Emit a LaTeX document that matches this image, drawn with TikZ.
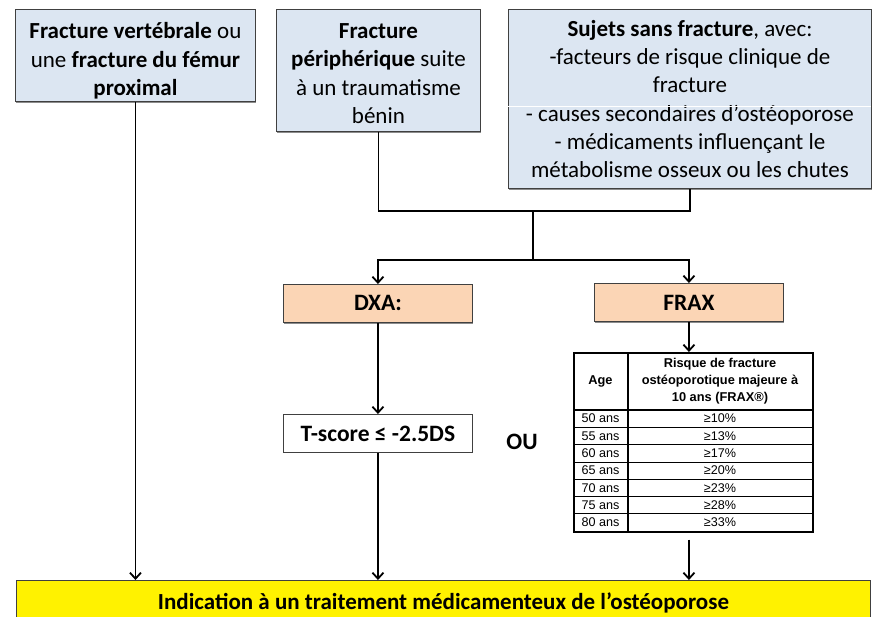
\documentclass[tikz,border=0pt]{standalone}
\usepackage{fontspec}
\setmainfont{Carlito}
\newfontfamily\arialf{Liberation Sans}
\usetikzlibrary{arrows.meta,shadows}
\definecolor{boxblue}{HTML}{DCE6F2}
\definecolor{boxorange}{HTML}{FBD5B5}
\definecolor{boxline}{HTML}{404040}
\begin{document}
\begin{tikzpicture}[x=1pt,y=-1pt,
  shad/.style={drop shadow={shadow xshift=1pt,shadow yshift=-1.2pt,fill=black!45,opacity=1}},
  mainfont/.style={font=\fontsize{23}{28.3}\selectfont},
  bluebox/.style={draw=boxline, line width=0.9pt, fill=boxblue, align=center, inner sep=0pt, anchor=north west, mainfont, shad},
  orangebox/.style={draw=boxline, line width=0.9pt, fill=boxorange, inner sep=0pt, anchor=north west, font=\fontsize{23.5}{28}\selectfont\bfseries, shad},
  whitebox/.style={draw=boxline, line width=0.9pt, fill=white, inner sep=0pt, anchor=north west, font=\fontsize{23.5}{28}\selectfont\bfseries},
  conn/.style={line width=1.8pt, draw=black},
  arr/.style={conn, -{Straight Barb[length=6pt,width=11pt]}},
  tabtxt/.style={font=\arialf\fontsize{12.6}{12.6}\selectfont, inner sep=0pt},
  tabhead/.style={font=\arialf\bfseries\fontsize{12.8}{17}\selectfont, align=center, inner sep=0pt}
]
\clip (0,0) rectangle (877,616);
\fill[white] (0,0) rectangle (877,616);

% top boxes
\node[bluebox, minimum width=240pt, minimum height=92pt] (b1) at (15,9)
  {\rule{0pt}{27pt}\textbf{Fracture vertébrale} ou\\une \textbf{fracture du fémur}\\\textbf{proximal}};
\node[bluebox, minimum width=204pt, minimum height=122pt] (b2) at (276,9)
  {\rule{0pt}{21pt}\textbf{Fracture}\\\textbf{périphérique} suite\\à un traumatisme\\bénin};
\node[bluebox, minimum width=363pt, minimum height=179pt] (b3) at (508,9)
  {\textbf{Sujets sans fracture}, avec:\\-facteurs de risque clinique de\\fracture\\- causes secondaires d’ostéoporose\\- médicaments influençant le\\métabolisme osseux ou les chutes};
\draw[white, line width=0.8pt] (506,106) -- (871,106);

% second row
\node[orangebox, minimum width=189pt, minimum height=38pt] (dxa) at (283,284) {DXA:};
\node[orangebox, minimum width=189pt, minimum height=38pt] (frax) at (594,283) {FRAX};
\node[whitebox, minimum width=189pt, minimum height=38pt] (ts) at (283,414) {T-score ≤ -2.5DS};
\node[font=\fontsize{23.5}{28}\selectfont\bfseries] (ou) at (522,442) {OU};

% table
\node[draw=black, line width=1.6pt, minimum width=239pt, minimum height=179pt, anchor=north west, inner sep=0pt] (tab) at (573,352) {};
\draw[line width=1.6pt] (628,352) -- (628,531);
\draw[line width=1.1pt] (573,410) -- (812,410);
\foreach \k in {1,...,6} \draw[line width=0.8pt] (573,{410+17.3*\k}) -- (812,{410+17.3*\k});
\node[tabhead] (hage) at (600.5,381) {Age};
\node[tabhead] (hrisk) at (720,381) {Risque de fracture\\ostéoporotique majeure à\\10 ans (FRAX®)};
\foreach \a/\p [count=\i from 0] in {50/10,55/13,60/17,65/20,70/23,75/28,80/33} {
  \node[tabtxt] (age\a) at (600.5,{410+17.3*(\i+0.5)}) {\a{} ans};
  \node[tabtxt] (pct\a) at (720,{410+17.3*(\i+0.5)}) {≥\p\%};
}

% bottom box
\node[draw=boxline, line width=0.9pt, fill=yellow, anchor=north west, minimum width=854pt, minimum height=44pt, inner sep=0pt, font=\fontsize{23}{27}\selectfont\bfseries] (yel) at (16,580) {Indication à un traitement médicamenteux de l’ostéoporose};

% connectors
\coordinate (j1) at (533,211);
\coordinate (j2) at (533,260);
\draw[conn] (b2.south) |- (j1) -| (b3.south);
\draw[conn] (j1) -- (j2);
\draw[arr] (j2) -| (dxa.north);
\draw[arr] (j2) -| (frax.north);
\draw[arr] (dxa.south) -- (ts.north);
\draw[arr] (frax.south) -- (frax.south |- tab.north);
\draw[arr] (b1.south) -- (b1.south |- yel.north);
\draw[arr] (ts.south) -- (ts.south |- yel.north);
\draw[arr] ([yshift=-7pt]frax.south |- tab.south) -- (frax.south |- yel.north);
\end{tikzpicture}
\end{document}
